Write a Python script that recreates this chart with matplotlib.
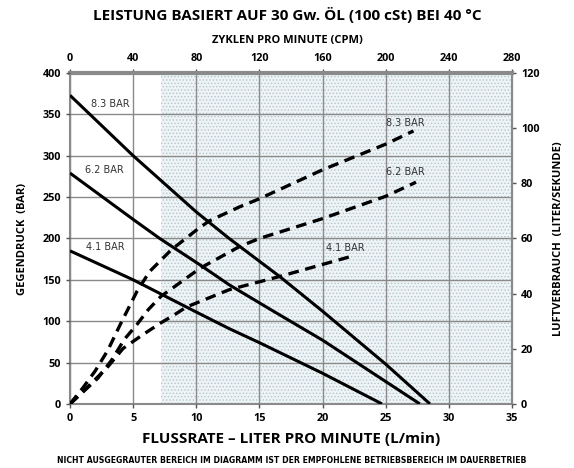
import numpy as np
import matplotlib
matplotlib.use("Agg")
import matplotlib.pyplot as plt

plt.rcParams['font.family'] = ['Open Sans', 'DejaVu Sans']
plt.rcParams['hatch.color'] = '#b4c6cd'
plt.rcParams['hatch.linewidth'] = 0.6

# Gegendruck (bar) vs Flussrate (L/min)
flow_83 = [0, 5, 10, 12.6, 16.6, 20, 25, 28.5]
head_83 = [373, 300, 232, 200, 154, 112, 48, 0]
flow_62 = [0, 5, 7.1, 10.3, 12.6, 16, 20, 25, 27.7]
head_62 = [279, 223, 200, 168, 144, 113, 77, 27, 0]
flow_41 = [0, 5, 10, 12.6, 15, 20, 24.7]
head_41 = [185, 150, 111, 91, 74, 37, 0]

# Luftverbrauch (liter/sekunde) vs Flussrate (L/min)
air_flow_83 = [0, 1, 2, 3, 4, 5.3, 6.3, 8, 10, 11, 13.4, 15, 20, 25, 27.2]
air_83 = [0, 5.7, 12, 19.5, 29, 40.8, 48, 55.8, 63, 66.3, 71.4, 74.4, 84.9, 94.2, 99]
air_flow_62 = [0, 2.2, 3.3, 4.3, 5.3, 6.2, 7.2, 8.3, 10.3, 13.4, 15, 20, 25, 27.4]
air_62 = [0, 9.3, 15.9, 23.4, 28.8, 34.2, 39, 42.6, 49.2, 57, 60, 67.2, 75.3, 80.4]
air_flow_41 = [0, 1.5, 3, 4.2, 5.7, 7.2, 8.3, 9.2, 12.6, 16.6, 22.2]
air_41 = [0, 6.6, 13.5, 20.1, 24.9, 29.4, 32.4, 35.1, 41.4, 46.2, 53.4]

fig = plt.figure(figsize=(5.74, 4.68), dpi=100)
ax = fig.add_axes([0.122, 0.137, 0.770, 0.707])

ax.set_xlim(0, 35)
ax.set_ylim(0, 400)

# grey (non-recommended) region
ax.fill_between([7.2, 35], 0, 400, facecolor='#eef4f6', hatch='.....',
                edgecolor='#b4c6cd', linewidth=0, zorder=0)

ax.set_xticks(np.arange(0, 36, 5))
ax.set_yticks(np.arange(0, 401, 50))
ax.grid(True, color='#8a8a8a', linewidth=1.0, zorder=1)
ax.set_axisbelow(False)

for s in ['left', 'bottom', 'right']:
    ax.spines[s].set_color('#8a8a8a')
    ax.spines[s].set_linewidth(1.5)
ax.spines['top'].set_color('#8a8a8a')
ax.spines['top'].set_linewidth(3)

# solid pressure curves
for fx, hy in [(flow_83, head_83), (flow_62, head_62), (flow_41, head_41)]:
    ax.plot(fx, hy, color='black', lw=2.2, zorder=3, solid_capstyle='butt')

# dashed air consumption curves (right axis scale 0.3 l/s per bar)
for fx, ay in [(air_flow_83, air_83), (air_flow_62, air_62), (air_flow_41, air_41)]:
    ax.plot(fx, np.array(ay) / 0.3, color='black', lw=2.4, dashes=(3.2, 2.0),
            zorder=3)

lab = dict(fontsize=7, color='#333333', fontfamily=['Liberation Sans Narrow', 'DejaVu Sans'])
ax.text(1.7, 363, '8.3 BAR', va='center', **lab)
ax.text(1.2, 283, '6.2 BAR', va='center', **lab)
ax.text(1.3, 190, '4.1 BAR', va='center', **lab)
ax.text(25.0, 339, '8.3 BAR', va='center', **lab)
ax.text(25.0, 280, '6.2 BAR', va='center', **lab)
ax.text(20.3, 188, '4.1 BAR', va='center', **lab)

tick_kw = dict(labelsize=7.8, length=3, width=1, color='#555555')
ax.tick_params(axis='both', **tick_kw)
for t in ax.get_xticklabels() + ax.get_yticklabels():
    t.set_fontweight('bold')

top = ax.secondary_xaxis('top', functions=(lambda x: x * 8, lambda c: c / 8))
top.set_xticks(np.arange(0, 281, 40))
top.tick_params(**tick_kw)
for t in top.get_xticklabels():
    t.set_fontweight('bold')
top.spines['top'].set_visible(False)

right = ax.secondary_yaxis('right', functions=(lambda y: y * 0.3, lambda a: a / 0.3))
right.set_yticks(np.arange(0, 121, 20))
right.tick_params(**tick_kw)
for t in right.get_yticklabels():
    t.set_fontweight('bold')
right.spines['right'].set_color('#555555')

ax.set_ylabel('GEGENDRUCK  (BAR)', fontsize=8, fontweight='bold', labelpad=10)
right.set_ylabel('LUFTVERBRAUCH  (LITER/SEKUNDE)', fontsize=8, fontweight='bold',
                 labelpad=10)

fig.text(0.5, 0.968, 'LEISTUNG BASIERT AUF 30 Gw. ÖL (100 cSt) BEI 40 °C',
         ha='center', va='center', fontsize=11, fontweight='bold')
fig.text(0.5, 0.914, 'ZYKLEN PRO MINUTE (CPM)', ha='center', va='center',
         fontsize=8, fontweight='bold')
fig.text(0.507, 0.062, 'FLUSSRATE – LITER PRO MINUTE (L/min)', ha='center',
         va='center', fontsize=11, fontweight='bold')
fig.text(0.508, 0.017,
         'NICHT AUSGEGRAUTER BEREICH IM DIAGRAMM IST DER EMPFOHLENE BETRIEBSBEREICH IM DAUERBETRIEB',
         ha='center', va='center', fontsize=5.6, fontweight='bold',
         fontfamily=['Liberation Sans Narrow', 'DejaVu Sans'])

fig.savefig('out.png', dpi=100)
